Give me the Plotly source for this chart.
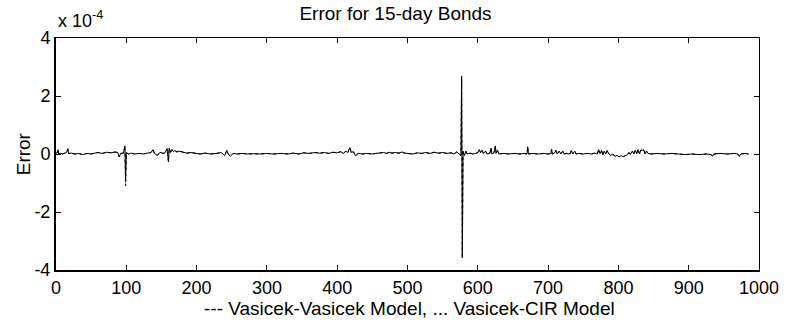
import plotly.graph_objects as go

# Error values in units of 1e-4
vv_points = [
    (1, 0.02), (3, 0.15), (4, 0.0), (6, 0.03), (9, 0.0), (12, 0.02), (15, 0.05),
    (17, 0.18), (18, 0.02), (22, 0.03), (27, 0.0), (32, 0.02), (38, -0.02),
    (44, 0.02), (50, 0.0), (55, 0.03), (60, 0.05), (66, 0.02), (72, 0.06),
    (78, 0.04), (84, 0.07), (88, 0.05), (90, -0.1), (92, 0.02), (96, 0.03),
    (98, 0.28), (99, -0.93), (100, 0.05), (103, 0.0), (107, 0.03), (112, 0.0),
    (118, 0.02), (124, 0.0), (130, 0.03), (135, 0.05), (138, 0.15), (140, 0.02),
    (144, -0.05), (148, 0.06), (152, 0.02), (155, 0.04), (158, 0.18), (160, -0.27),
    (161, 0.2), (163, 0.05), (165, 0.15), (167, 0.08), (169, 0.12), (172, 0.07),
    (175, 0.1), (180, 0.06), (186, 0.03), (192, 0.05), (198, 0.02), (205, 0.0),
    (212, 0.03), (220, 0.0), (228, 0.02), (235, 0.05), (240, -0.05), (243, 0.12),
    (245, 0.0), (248, -0.08), (252, 0.02), (258, 0.0), (265, 0.02), (272, 0.0),
    (280, 0.01), (290, 0.0), (300, 0.02), (310, 0.0), (320, 0.02), (330, 0.0),
    (338, 0.03), (345, 0.0), (352, 0.04), (360, 0.02), (368, 0.05), (375, 0.03),
    (382, 0.05), (388, 0.02), (394, 0.06), (400, 0.04), (405, 0.08), (409, 0.02),
    (412, 0.1), (415, 0.05), (418, 0.22), (420, 0.05), (423, 0.08), (426, -0.06),
    (430, 0.02), (436, 0.0), (442, 0.02), (450, 0.0), (458, 0.03), (466, 0.05),
    (470, 0.02), (474, 0.06), (478, 0.03), (482, 0.05), (488, 0.03), (492, 0.07),
    (496, 0.03), (502, 0.02), (508, 0.0), (514, 0.04), (520, 0.02), (526, 0.05),
    (532, 0.02), (538, 0.06), (544, 0.03), (550, 0.05), (556, 0.02), (562, 0.04),
    (566, 0.0), (570, 0.07), (573, 0.02), (576, -0.05), (577, 2.68), (578, -3.58),
    (579, 0.1), (581, -0.05), (583, 0.1), (585, 0.0), (589, 0.03), (593, 0.0),
    (597, 0.02), (600, 0.05), (602, 0.15), (604, 0.05), (606, 0.13), (608, 0.02),
    (611, 0.1), (613, 0.0), (617, 0.02), (619, 0.2), (620, 0.0), (623, 0.05),
    (625, 0.27), (626, 0.02), (628, 0.12), (630, 0.0), (636, 0.02), (644, 0.0),
    (652, 0.02), (660, 0.0), (666, 0.02), (670, 0.0), (671, 0.25), (672, 0.0),
    (678, 0.02), (686, 0.0), (694, 0.02), (700, 0.0), (704, 0.02), (705, 0.17),
    (706, 0.0), (709, 0.03), (711, 0.12), (713, 0.0), (716, 0.1), (718, 0.0),
    (721, 0.1), (723, 0.0), (726, 0.02), (731, 0.0), (733, 0.12), (735, 0.0),
    (738, 0.1), (740, 0.0), (744, 0.02), (750, 0.0), (756, 0.02), (762, 0.0),
    (766, 0.03), (770, 0.0), (772, 0.15), (774, 0.02), (776, 0.12), (778, -0.03),
    (780, 0.1), (782, 0.0), (784, 0.12), (786, 0.02), (789, -0.05), (792, 0.0),
    (795, -0.08), (798, -0.05), (801, -0.1), (804, -0.06), (807, -0.09),
    (810, -0.04), (813, -0.02), (815, 0.05), (817, -0.02), (820, 0.1), (822, 0.0),
    (824, 0.13), (826, 0.02), (828, 0.15), (830, 0.0), (832, 0.14), (834, 0.12),
    (836, 0.15), (838, 0.0), (840, 0.1), (842, 0.02), (846, 0.0), (855, 0.02),
    (865, 0.0), (875, 0.02), (885, 0.0), (895, -0.02), (905, 0.0), (915, -0.02),
    (925, 0.0), (932, -0.02), (934, -0.08), (936, 0.0), (945, 0.02), (955, 0.0),
    (965, 0.02), (970, 0.0), (972, -0.08), (974, 0.0), (980, 0.02), (985, 0.0),
]
# Vasicek-CIR differs visibly only at the dip near day 99
vc_overrides = {99: -1.10}

days = [p[0] for p in vv_points]
err_vv = [p[1] for p in vv_points]
err_vc = [vc_overrides.get(d, v) for d, v in vv_points]

x_ticks = list(range(0, 1001, 100))
y_ticks = [-4, -2, 0, 2, 4]
y_ticktext = ["-4", "-2", "0", "2", "4"]

FONT = "Liberation Sans, Arial, sans-serif"

fig = go.Figure()
fig.add_trace(go.Scatter(x=days, y=err_vv, mode="lines",
                         line=dict(color="black", width=1), showlegend=False))
fig.add_trace(go.Scatter(x=days, y=err_vc, mode="lines",
                         line=dict(color="black", width=1, dash="dot"), showlegend=False))
fig.add_trace(go.Scatter(x=[None], y=[None], xaxis="x2", yaxis="y2",
                         showlegend=False, hoverinfo="skip"))

axis_common = dict(showgrid=False, zeroline=False, ticks="inside", ticklen=5,
                   tickwidth=1, tickcolor="black", linecolor="black",
                   showline=True)

fig.update_layout(
    width=791, height=324,
    margin=dict(l=56, r=26, t=38, b=54),
    paper_bgcolor="white", plot_bgcolor="white",
    font=dict(family=FONT, size=18, color="black"),
    title=dict(text="Error for 15-day Bonds", x=0.5, xanchor="center",
               y=1 - 13 / 324, yanchor="middle", yref="container",
               font=dict(family=FONT, size=19, color="black")),
    xaxis=dict(range=[0, 1000], tickvals=x_ticks, linewidth=2, **axis_common),
    yaxis=dict(range=[-4, 4], tickvals=y_ticks, ticktext=y_ticktext,
               linewidth=2, **axis_common),
    xaxis2=dict(range=[0, 1000], tickvals=x_ticks, overlaying="x", side="top",
                anchor="y", showticklabels=False, linewidth=1, **axis_common),
    yaxis2=dict(range=[-4, 4], tickvals=y_ticks, overlaying="y", side="right",
                anchor="x", showticklabels=False, linewidth=1, **axis_common),
    annotations=[
        dict(text="--- Vasicek-Vasicek Model, ... Vasicek-CIR Model",
             xref="paper", yref="paper", x=(413 - 56) / 709, y=-(308 - 270) / 232,
             xanchor="center", yanchor="middle", showarrow=False,
             font=dict(family=FONT, size=19)),
        dict(text="Error", xref="paper", yref="paper", x=(23 - 56) / 709, y=0.5,
             xanchor="center", yanchor="middle", textangle=-90, showarrow=False,
             font=dict(family=FONT, size=19)),
        dict(text="x 10<sup>-4</sup>", xref="paper", yref="paper", x=0.0,
             y=1 + (38 - 33) / 232, xanchor="left", yanchor="bottom",
             showarrow=False, font=dict(family=FONT, size=18)),
    ],
)

fig.write_html("out.html")
